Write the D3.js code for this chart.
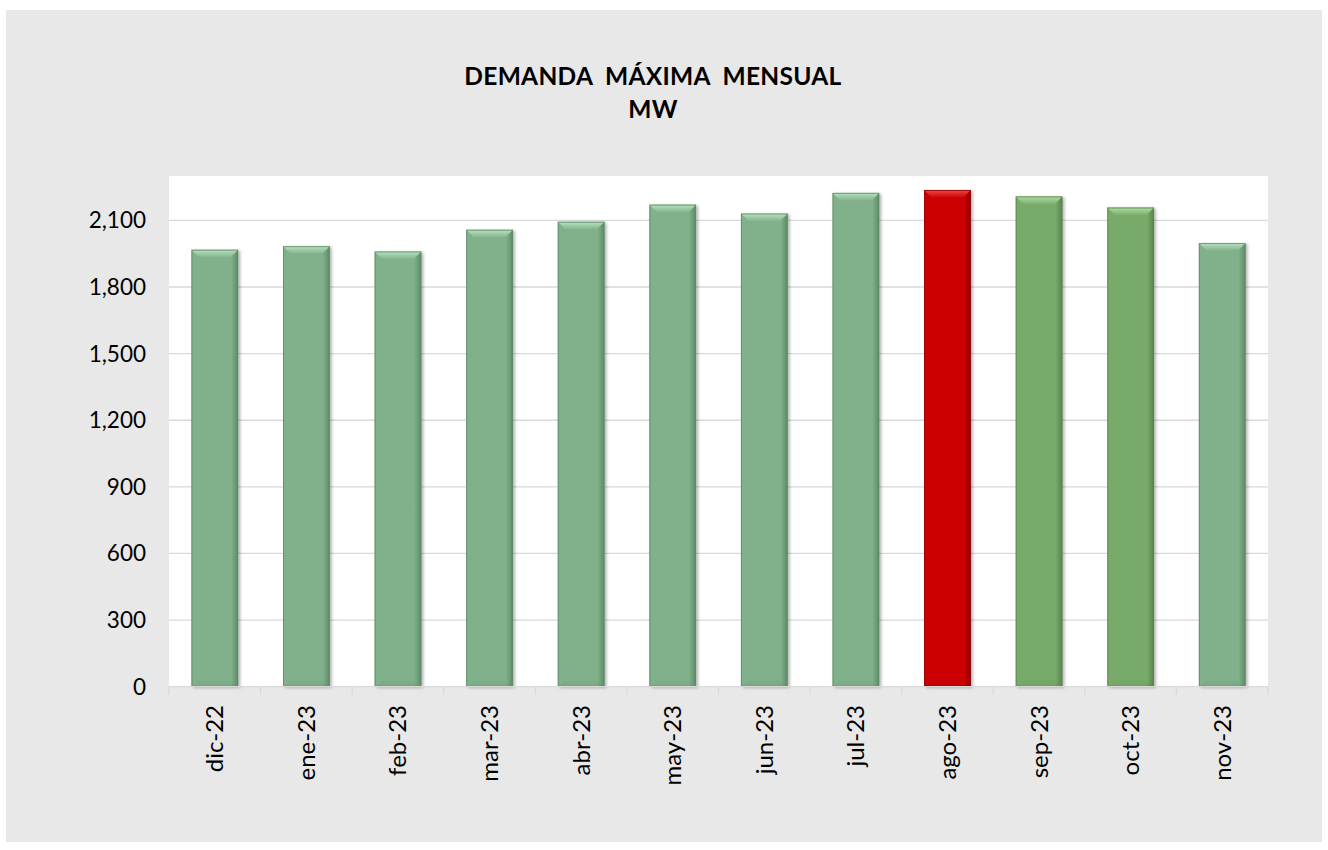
<!DOCTYPE html>
<html><head><meta charset="utf-8">
<script src="https://cdn.jsdelivr.net/npm/d3@7"></script>
<style>body{margin:0;background:#fff;}svg{display:block;}</style>
</head><body>
<script>
const categories = ["dic-22","ene-23","feb-23","mar-23","abr-23","may-23","jun-23","jul-23","ago-23","sep-23","oct-23","nov-23"];
const values = [1968, 1984, 1960, 2058, 2094, 2171, 2131, 2224, 2237, 2208, 2158, 1998];
const colorKeys = ["g","g","g","g","g","g","g","g","r","y","y","g"];
const yTicks = [0,300,600,900,1200,1500,1800,2100];
const titleLines = ["DEMANDA  MÁXIMA  MENSUAL","MW"];

const W=1328,H=850;
const svg=d3.select("body").append("svg").attr("width",W).attr("height",H);
svg.append("rect").attr("x",6).attr("y",10).attr("width",1316).attr("height",832).attr("fill","#e8e8e8");
const L=169,R=1268,T=176,B=686.7;
svg.append("rect").attr("x",L).attr("y",T).attr("width",R-L).attr("height",B-T).attr("fill","#fff");

const x=d3.scaleBand().domain(categories).range([L,R]).paddingInner(0.49).paddingOuter(0.245);
const y=d3.scaleLinear().domain([0,2300]).range([B,T]);

const pal={g:{base:"#80b18b",light:"#b9e3c0",dark:"#5d8a66"},
           y:{base:"#78ab6b",light:"#b2dea6",dark:"#58844c"},
           r:{base:"#cc0000",light:"#ef4a4a",dark:"#8e0000"}};
const defs=svg.append("defs");
const f=defs.append("filter").attr("id","sh").attr("x","-20%").attr("y","-10%").attr("width","150%").attr("height","120%");
f.append("feDropShadow").attr("dx",2).attr("dy",1).attr("stdDeviation",1.6).attr("flood-color","#000").attr("flood-opacity",0.3);
Object.entries(pal).forEach(([k,p])=>{
  const g=defs.append("linearGradient").attr("id","h"+k).attr("x1",0).attr("x2",1).attr("y1",0).attr("y2",0);
  g.append("stop").attr("offset",0).attr("stop-color",p.base);
  g.append("stop").attr("offset",0.85).attr("stop-color",p.base);
  g.append("stop").attr("offset",1).attr("stop-color",p.dark);
  const t=defs.append("linearGradient").attr("id","t"+k).attr("x1",0).attr("x2",0).attr("y1",0).attr("y2",1);
  t.append("stop").attr("offset",0).attr("stop-color",p.light);
  t.append("stop").attr("offset",1).attr("stop-color",p.base);
});

// gridlines
svg.append("g").selectAll("line").data(yTicks.slice(1)).join("line")
  .attr("x1",L).attr("x2",R).attr("y1",d=>y(d)).attr("y2",d=>y(d))
  .attr("stroke","#d9d9d9").attr("stroke-width",1.3);

// bars
const bars=svg.append("g").selectAll("g").data(categories).join("g");
bars.each(function(c,i){
  const g=d3.select(this);
  const p=pal[colorKeys[i]], k=colorKeys[i];
  const x0=x(c), w=x.bandwidth(), y0=y(values[i]), h=y(0)-y0;
  g.append("rect").attr("x",x0).attr("y",y0).attr("width",w).attr("height",h)
    .attr("fill","url(#h"+k+")").attr("filter","url(#sh)");
  const b=8;
  g.append("path").attr("d",`M${x0},${y0}L${x0+w},${y0}L${x0+w-b},${y0+b}L${x0+b},${y0+b}Z`)
    .attr("fill","url(#t"+k+")");
  g.append("path").attr("d",`M${x0},${y0+h}L${x0+w},${y0+h}L${x0+w-b},${y0+h-6}L${x0+b},${y0+h-6}Z`)
    .attr("fill",p.dark).attr("opacity",0.12);
  g.append("rect").attr("x",x0+0.5).attr("y",y0+0.5).attr("width",w-1).attr("height",h-1)
    .attr("fill","none").attr("stroke",p.dark).attr("stroke-width",1).attr("opacity",0.8);
});

// x axis
svg.append("line").attr("x1",L).attr("x2",R).attr("y1",B).attr("y2",B).attr("stroke","#d9d9d9").attr("stroke-width",1.3);
const bounds=categories.map(c=>x(c)-x.step()*x.paddingInner()/2).concat([R]);
svg.append("g").selectAll("line").data(bounds).join("line")
  .attr("x1",d=>d).attr("x2",d=>d).attr("y1",B).attr("y2",B+8).attr("stroke","#d9d9d9").attr("stroke-width",1.3);

const font="Lato, 'Liberation Sans', sans-serif";
svg.append("g").selectAll("text").data(categories).join("text")
  .attr("transform",c=>`translate(${x(c)+x.bandwidth()/2+8.5},705) rotate(-90)`)
  .attr("text-anchor","end").attr("font-family",font).attr("font-size",24).attr("fill","#000").text(c=>c);

svg.append("g").selectAll("text").data(yTicks).join("text")
  .attr("x",146).attr("y",d=>y(d)+8).attr("text-anchor","end")
  .attr("font-family",font).attr("font-size",22.5).attr("fill","#000").text(d=>d3.format(",")(d));

svg.append("g").selectAll("text").data(titleLines).join("text")
  .attr("x",653).attr("y",(d,i)=>85+i*33).attr("text-anchor","middle")
  .attr("font-family",font).attr("font-weight","bold").attr("font-size",24.5).attr("letter-spacing",0.3).attr("fill","#000")
  .attr("xml:space","preserve").style("white-space","pre").text(d=>d);
</script>
</body></html>
